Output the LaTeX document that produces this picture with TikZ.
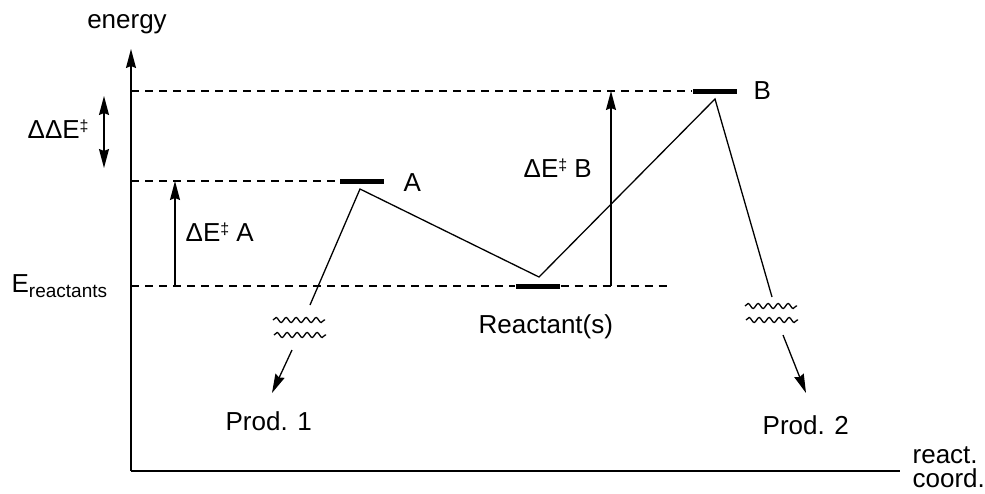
\documentclass[tikz,border=0pt]{standalone}
\usepackage{fontspec}
\setmainfont{Liberation Sans}
\usetikzlibrary{arrows.meta,decorations.pathmorphing}

\newcommand{\dbldagger}{\raisebox{7pt}{\fontsize{16}{18}\selectfont ‡}}

\begin{document}
\begin{tikzpicture}[
  x=1pt, y=-1pt,
  font=\fontsize{26}{30}\selectfont,
  line width=1.3pt,
  lbl/.style={inner sep=0pt, anchor=base west},
  level/.style={fill=black, inner sep=0pt, minimum width=44pt, minimum height=5pt},
  arr/.style={-{Stealth[length=19pt, width=10pt, inset=2pt]}},
  dblarr/.style={{Stealth[length=19pt, width=10pt, inset=2pt]}-{Stealth[length=19pt, width=10pt, inset=2pt]}},
  guide/.style={dash pattern=on 8pt off 6pt},
  wiggle/.style={decorate, decoration={snake, segment length=10pt, amplitude=2.5pt}}]
  \useasboundingbox (0,0) rectangle (985,493);
  % axes
  \coordinate (origin) at (131,471);
  \coordinate (ytop) at (131,49);
  \coordinate (xend) at (900,471);
  \draw[arr] (origin) -- (ytop);
  \draw (origin) -- (xend);
  \node[lbl, anchor=base] (ylab) at (127,28) {energy};
  \node[lbl] (xlab) at (912,463) {react.};
  \node[lbl] (xlab2) at (912,487) {coord.};
  % levels
  \node[level] (barA) at (362,181) {};
  \node[level] (barB) at (715,91) {};
  \node[level] (barR) at (538,286) {};
  \node[lbl] (labA) at (403,191) {A};
  \node[lbl] (labB) at (753,99) {B};
  \node[lbl] (labR) at (478,333) {Reactant(s)};
  \node[lbl] (eR) at (11,292) {E\raisebox{-5pt}{\fontsize{19}{22}\selectfont reactants}};
  % guide lines
  \coordinate (gB) at (131,91);
  \coordinate (gA) at (131,181);
  \coordinate (gR) at (131,286);
  \coordinate (gRend) at (668,286);
  \draw[guide] (gB) -- (barB.west);
  \draw[guide] (gA) -- (barA.west);
  \draw[guide] (gR) -- (barR.west);
  \draw[guide] (barR.east) -- (gRend);
  % barriers
  \coordinate (ddlo) at (104,168);
  \coordinate (ddhi) at (104,96);
  \draw[dblarr] (ddlo) -- (ddhi);
  \node[lbl] (ddE) at (27,138) {ΔΔE\dbldagger};
  \coordinate (dAlo) at (175,286);
  \coordinate (dAhi) at (175,181);
  \draw[arr] (dAlo) -- (dAhi);
  \node[lbl] (dEA) at (185,241) {ΔE\dbldagger\ A};
  \coordinate (dBlo) at (611,286);
  \coordinate (dBhi) at (611,91);
  \draw[arr] (dBlo) -- (dBhi);
  \node[lbl] (dEB) at (523,177) {ΔE\dbldagger\ B};
  % reaction path
  \coordinate (p1) at (310,305);
  \coordinate (tsA) at (360,189);
  \coordinate (min) at (539,277);
  \coordinate (tsB) at (715,99);
  \coordinate (p2) at (772,297);
  \draw (p1) -- (tsA) -- (min) -- (tsB) -- (p2);
  % breaks
  \draw[wiggle] (273,320) -- (325,320);
  \draw[wiggle] (274,335) -- (326,335);
  \draw[wiggle] (745,306) -- (797,306);
  \draw[wiggle] (746,320) -- (798,320);
  % products
  \node[lbl] (prod1) at (225,430) {Prod. 1};
  \node[lbl] (prod2) at (762,434) {Prod. 2};
  \coordinate (w1) at (292,350);
  \coordinate (t1) at (272,393);
  \coordinate (w2) at (783,335);
  \coordinate (t2) at (806,393);
  \draw[arr] (w1) -- (t1);
  \draw[arr] (w2) -- (t2);
\end{tikzpicture}
\end{document}
